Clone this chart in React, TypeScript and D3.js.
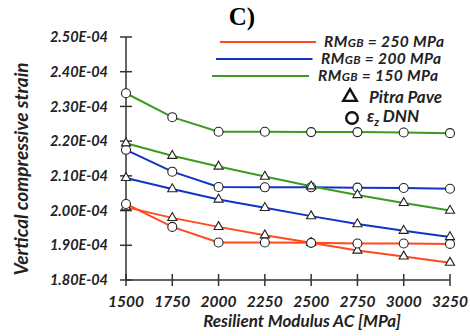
import React from 'react'
import * as d3 from 'd3'

const modulus = [1500, 1750, 2000, 2250, 2500, 2750, 3000, 3250]
const yTicks = [1.8e-4, 1.9e-4, 2.0e-4, 2.1e-4, 2.2e-4, 2.3e-4, 2.4e-4, 2.5e-4]

// Pitra Pave (triangles) and DNN (circles), in units of 1e-4
const pitra250 = [2.010, 1.979, 1.953, 1.929, 1.907, 1.885, 1.868, 1.850]
const dnn250 = [2.019, 1.953, 1.908, 1.908, 1.907, 1.905, 1.905, 1.904]
const pitra200 = [2.094, 2.062, 2.032, 2.008, 1.984, 1.961, 1.942, 1.924]
const dnn200 = [2.175, 2.112, 2.068, 2.067, 2.067, 2.066, 2.065, 2.063]
const pitra150 = [2.194, 2.158, 2.127, 2.098, 2.070, 2.045, 2.022, 2.000]
const dnn150 = [2.338, 2.269, 2.227, 2.227, 2.226, 2.226, 2.225, 2.223]

const red = '#ff4a1c'
const blue = '#1234c4'
const green = '#3b9a1f'

const series = [
  { color: red, pitra: pitra250, dnn: dnn250 },
  { color: blue, pitra: pitra200, dnn: dnn200 },
  { color: green, pitra: pitra150, dnn: dnn150 },
]

const legend = [
  { color: red, value: '250' },
  { color: blue, value: '200' },
  { color: green, value: '150' },
]

const font = 'Lato, "Open Sans", sans-serif'

const App = () => {
  const x = d3.scaleLinear().domain([1500, 3250]).range([126, 450])
  const y = d3.scaleLinear().domain([1.8e-4, 2.5e-4]).range([280, 37])
  const line = d3.line<number>()
    .x((d, i) => x(modulus[i]))
    .y(d => y(d * 1e-4))
  const tri = d3.symbol().type(d3.symbolTriangle).size(36)()

  return (
    <svg width={470} height={336} style={{ position: 'absolute', left: 0, top: 0 }}>
      <rect width={470} height={336} fill="#fff" />
      <text x={242} y={25} textAnchor="middle" fontFamily='"Liberation Serif", serif' fontWeight="bold" fontSize={25}>C)</text>

      {/* axes */}
      <g stroke="#333" strokeWidth={1.5}>
        <line x1={126} x2={126} y1={y(2.5e-4)} y2={280} />
        <line x1={126} x2={450} y1={280} y2={280} />
        {yTicks.map(t => <line key={t} x1={120} x2={132} y1={y(t)} y2={y(t)} />)}
        {modulus.map(m => <line key={m} x1={x(m)} x2={x(m)} y1={274} y2={286} />)}
      </g>
      <g fontFamily={font} fontWeight="bold" fontStyle="italic" fontSize={14.5} fill="#222">
        {yTicks.map(t => (
          <text key={t} x={108} y={y(t)} dy="0.35em" textAnchor="end">
            {(t * 1e4).toFixed(2)}E-04
          </text>
        ))}
        {modulus.map(m => (
          <text key={m} x={x(m)} y={307} textAnchor="middle" fontSize={15.5}>{m}</text>
        ))}
      </g>
      <text x={302} y={327} textAnchor="middle" fontFamily={font} fontWeight="bold" fontStyle="italic" fontSize={17} fill="#222">
        Resilient Modulus AC [MPa]
      </text>
      <text transform="translate(28,169) rotate(-90)" textAnchor="middle" fontFamily={font} fontWeight="bold" fontStyle="italic" fontSize={19} fill="#222">
        Vertical compressive strain
      </text>

      {/* series */}
      {series.map(s => (
        <g key={s.color}>
          <path d={line(s.pitra) || ''} fill="none" stroke={s.color} strokeWidth={2} />
          <path d={line(s.dnn) || ''} fill="none" stroke={s.color} strokeWidth={2} />
        </g>
      ))}
      {series.map(s => (
        <g key={s.color + 'm'} stroke="#222" strokeWidth={1.1} fill="#fff">
          {s.pitra.map((v, i) => (
            <path key={i} d={tri || ''} transform={`translate(${x(modulus[i])},${y(v * 1e-4)})`} />
          ))}
          {s.dnn.map((v, i) => (
            <circle key={i} cx={x(modulus[i])} cy={y(v * 1e-4)} r={4.5} />
          ))}
        </g>
      ))}

      {/* legend */}
      <g fontFamily={font} fontWeight="bold" fontStyle="italic" fontSize={15.5} fill="#222">
        {legend.map((l, i) => (
          <g key={l.value}>
            <line x1={220 - i * 4} x2={316 - i * 3.5} y1={42 + i * 17} y2={42 + i * 17} stroke={l.color} strokeWidth={2} />
            <text x={324 - i * 3} y={42 + i * 17} dy="0.35em" letterSpacing={0.4}>
              RM<tspan fontSize={12}>GB</tspan> = {l.value} MPa
            </text>
          </g>
        ))}
        <path d={d3.symbol().type(d3.symbolTriangle).size(80)() || ''} transform="translate(350,97)" fill="none" stroke="#111" strokeWidth={2.4} />
        <text x={369} y={97} dy="0.35em" fontSize={17}>Pitra Pave</text>
        <circle cx={352} cy={118} r={5.8} fill="none" stroke="#111" strokeWidth={2.4} />
        <text x={367} y={116} dy="0.35em" fontSize={17}>
          ε<tspan fontSize={11} dy={4}>z</tspan><tspan dy={-4}> DNN</tspan>
        </text>
      </g>
    </svg>
  )
}

export default App
